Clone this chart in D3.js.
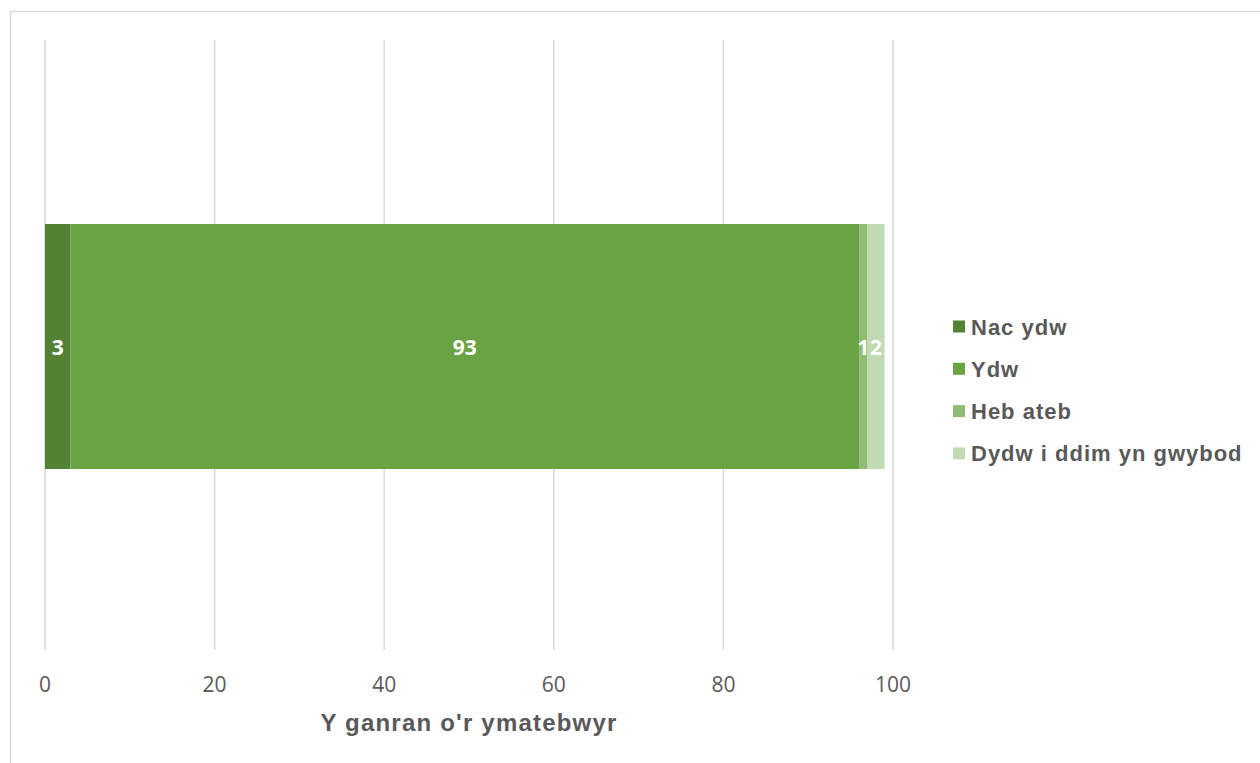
<!DOCTYPE html>
<html>
<head>
<meta charset="utf-8">
<script src="https://cdn.jsdelivr.net/npm/d3@7"></script>
<style>
  body { margin: 0; background: #fff; }
  svg { display: block; }
</style>
</head>
<body>
<svg id="chart"></svg>
<script>
const categories = ["Nac ydw", "Ydw", "Heb ateb", "Dydw i ddim yn gwybod"];
const values = [3, 93, 1, 2];
const colors = ["#548235", "#6aa343", "#8fbc72", "#c1dab3"];
const ticks = [0, 20, 40, 60, 80, 100];
const axisTitle = "Y ganran o'r ymatebwyr";

const W = 1260, H = 763;
const svg = d3.select("#chart").attr("width", W).attr("height", H);

// chart border
svg.append("rect")
  .attr("x", 10.5).attr("y", 11.5)
  .attr("width", W + 10).attr("height", H + 10)
  .attr("fill", "none").attr("stroke", "#d9d9d9").attr("stroke-width", 1.5);

const plot = { left: 45, right: 893, top: 40, bottom: 650 };
const x = d3.scaleLinear().domain([0, 100]).range([plot.left, plot.right]);

// gridlines
svg.append("g").selectAll("line")
  .data(ticks).join("line")
  .attr("x1", d => x(d)).attr("x2", d => x(d))
  .attr("y1", plot.top).attr("y2", plot.bottom)
  .attr("stroke", "#d9d9d9").attr("stroke-width", 1.5);

// tick labels
svg.append("g").selectAll("text")
  .data(ticks).join("text")
  .attr("x", d => x(d)).attr("y", 692)
  .attr("text-anchor", "middle")
  .attr("font-family", "'Open Sans', sans-serif")
  .attr("font-size", 21)
  .attr("fill", "#595959")
  .text(d => d);

// stacked segments
let acc = 0;
const segs = values.map((v, i) => {
  const s = { key: categories[i], x0: acc, x1: acc + v, value: v, color: colors[i] };
  acc += v;
  return s;
});

const barY = 224, barH = 245;
svg.append("g").selectAll("rect")
  .data(segs).join("rect")
  .attr("x", d => x(d.x0))
  .attr("width", d => x(d.x1) - x(d.x0))
  .attr("y", barY).attr("height", barH)
  .attr("fill", d => d.color);

svg.append("g").selectAll("text")
  .data(segs).join("text")
  .attr("x", d => (x(d.x0) + x(d.x1)) / 2)
  .attr("y", barY + barH / 2 + 8)
  .attr("text-anchor", "middle")
  .attr("font-family", "'Open Sans', sans-serif")
  .attr("font-weight", "bold")
  .attr("font-size", 21)
  .attr("fill", "#fff")
  .text(d => d.value);

// axis title
svg.append("text")
  .attr("x", 469).attr("y", 731)
  .attr("text-anchor", "middle")
  .attr("font-family", "'Liberation Sans', Arial, sans-serif")
  .attr("font-weight", "bold")
  .attr("font-size", 24)
  .attr("letter-spacing", 1.2)
  .attr("fill", "#595959")
  .text(axisTitle);

// legend
const legend = svg.append("g").selectAll("g")
  .data(categories).join("g")
  .attr("transform", (d, i) => `translate(953, ${326.5 + i * 42.3})`);

legend.append("rect")
  .attr("x", 0).attr("y", -6)
  .attr("width", 12).attr("height", 12)
  .attr("fill", (d, i) => colors[i]);

legend.append("text")
  .attr("x", 18).attr("y", 8)
  .attr("font-family", "'Liberation Sans', Arial, sans-serif")
  .attr("font-weight", "bold")
  .attr("font-size", 22)
  .attr("letter-spacing", 1)
  .attr("fill", "#595959")
  .text(d => d);
</script>
</body>
</html>
